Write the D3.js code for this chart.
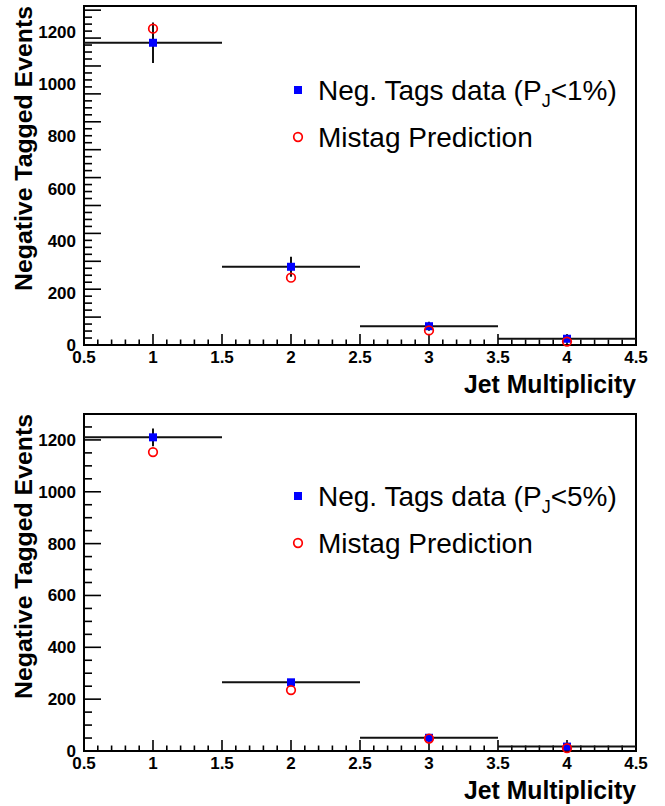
<!DOCTYPE html>
<html>
<head>
<meta charset="utf-8">
<script src="https://cdn.jsdelivr.net/npm/d3@7"></script>
<style>
  body { margin: 0; background: #fff; }
  svg { display: block; }
</style>
</head>
<body>
<div id="chart"></div>
<script>
// jet multiplicity bins (centre, half width)
const jetBins = [1, 2, 3, 4];
const binHalfWidth = 0.5;

// P_J < 1%
const negTags1 = [1159, 300, 72, 24];
const negTagsErr1 = [78, 38, 17, 8];
const mistag1 = [1213, 258, 56, 13];

// P_J < 5%
const negTags5 = [1210, 265, 51, 17];
const negTagsErr5 = [34, 12, 8, 6];
const mistag5 = [1153, 235, 48, 11];

const xTickLabels = [0.5, 1, 1.5, 2, 2.5, 3, 3.5, 4, 4.5];
const yTickLabels = [0, 200, 400, 600, 800, 1000, 1200];

const W = 665, H = 806;
const svg = d3.select('#chart').append('svg')
  .attr('width', W).attr('height', H)
  .attr('viewBox', `0,0,${W},${H}`);

function drawPanel(opts) {
  const g = svg.append('g');
  const x = d3.scaleLinear().domain([0.5, 4.5]).range([84, 636]);
  const y = d3.scaleLinear().domain([0, 1300]).range([opts.bottom, opts.top]);

  // frame
  g.append('rect')
    .attr('x', x(0.5)).attr('y', y(1300))
    .attr('width', x(4.5) - x(0.5)).attr('height', y(0) - y(1300))
    .attr('fill', 'none').attr('stroke', '#000').attr('stroke-width', 2);

  // y ticks
  const yMinor = d3.range(0, 1300.01, opts.yMinorStep);
  g.append('g').selectAll('line')
    .data(yMinor)
    .join('line')
    .attr('x1', x(0.5))
    .attr('x2', d => x(0.5) + (Math.abs(d / opts.yMajorStep - Math.round(d / opts.yMajorStep)) < 1e-6 ? 17 : 8))
    .attr('y1', d => y(d)).attr('y2', d => y(d))
    .attr('stroke', '#000').attr('stroke-width', 1.6);

  g.append('g').selectAll('text')
    .data(yTickLabels)
    .join('text')
    .attr('x', 76).attr('y', d => y(d) + 6)
    .attr('text-anchor', 'end')
    .style('font', 'bold 17px "Liberation Sans Narrow", "Liberation Sans", Arial, sans-serif')
    .text(d => d);

  // x ticks
  const xMinor = d3.range(0.5, 4.501, 0.1);
  g.append('g').selectAll('line')
    .data(xMinor)
    .join('line')
    .attr('x1', d => x(d)).attr('x2', d => x(d))
    .attr('y1', y(0))
    .attr('y2', d => y(0) - (Math.abs(d * 2 - Math.round(d * 2)) < 1e-6 ? 11 : 5.5))
    .attr('stroke', '#000').attr('stroke-width', 1.6);

  g.append('g').selectAll('text')
    .data(xTickLabels)
    .join('text')
    .attr('x', d => x(d)).attr('y', y(0) + 18)
    .attr('text-anchor', 'middle')
    .style('font', 'bold 17px "Liberation Sans Narrow", "Liberation Sans", Arial, sans-serif')
    .text(d => d);

  // axis titles
  g.append('text')
    .attr('transform', `translate(32,${y(1300)}) rotate(-90)`)
    .attr('text-anchor', 'end')
    .attr('textLength', 285).attr('lengthAdjust', 'spacingAndGlyphs')
    .style('font', 'bold 24px "Liberation Sans", Arial, sans-serif')
    .text('Negative Tagged Events');

  g.append('text')
    .attr('x', x(4.5) - 172).attr('y', y(0) + 48)
    .attr('textLength', 172).attr('lengthAdjust', 'spacingAndGlyphs')
    .style('font', 'bold 26px "Liberation Sans", Arial, sans-serif')
    .text('Jet Multiplicity');

  const pts = jetBins.map((b, i) => ({bin: b, v: opts.data[i], e: opts.err[i], m: opts.pred[i]}));

  // horizontal bin-width bars
  g.append('g').selectAll('line')
    .data(pts)
    .join('line')
    .attr('x1', d => x(d.bin - binHalfWidth)).attr('x2', d => x(d.bin + binHalfWidth))
    .attr('y1', d => y(d.v)).attr('y2', d => y(d.v))
    .attr('stroke', '#111').attr('stroke-width', 2);

  // vertical error bars
  g.append('g').selectAll('line')
    .data(pts)
    .join('line')
    .attr('x1', d => x(d.bin)).attr('x2', d => x(d.bin))
    .attr('y1', d => y(d.v - d.e)).attr('y2', d => y(d.v + d.e))
    .attr('stroke', '#111').attr('stroke-width', 2);

  // data squares
  g.append('g').selectAll('rect')
    .data(pts)
    .join('rect')
    .attr('x', d => x(d.bin) - 4).attr('y', d => y(d.v) - 4)
    .attr('width', 8).attr('height', 8)
    .attr('fill', '#0000ff');

  // prediction circles
  g.append('g').selectAll('circle')
    .data(pts)
    .join('circle')
    .attr('cx', d => x(d.bin)).attr('cy', d => y(d.m))
    .attr('r', 4.3)
    .attr('fill', 'none').attr('stroke', '#ff0000').attr('stroke-width', 1.7);

  // legend
  const lg = g.append('g').attr('transform', `translate(298,${opts.legendY})`);
  lg.append('rect').attr('x', -4).attr('y', -4).attr('width', 8).attr('height', 8).attr('fill', '#0000ff');
  const t1 = lg.append('text').attr('x', 20).attr('y', 10)
    .style('font', '28px "Liberation Sans", Arial, sans-serif');
  t1.append('tspan').text('Neg. Tags data (P');
  t1.append('tspan').attr('dy', 7).style('font-size', '18px').text('J');
  t1.append('tspan').attr('dy', -7).text(opts.cut + ')');

  lg.append('circle').attr('cx', 0).attr('cy', 47).attr('r', 4.3)
    .attr('fill', 'none').attr('stroke', '#ff0000').attr('stroke-width', 1.7);
  lg.append('text').attr('x', 20).attr('y', 57)
    .style('font', '28px "Liberation Sans", Arial, sans-serif')
    .text('Mistag Prediction');
}

drawPanel({top: 6, bottom: 345, yMajorStep: 107, yMinorStep: 26.75,
  data: negTags1, err: negTagsErr1, pred: mistag1, legendY: 90, cut: '<1%'});
drawPanel({top: 414, bottom: 751, yMajorStep: 200, yMinorStep: 50,
  data: negTags5, err: negTagsErr5, pred: mistag5, legendY: 496, cut: '<5%'});
</script>
</body>
</html>
